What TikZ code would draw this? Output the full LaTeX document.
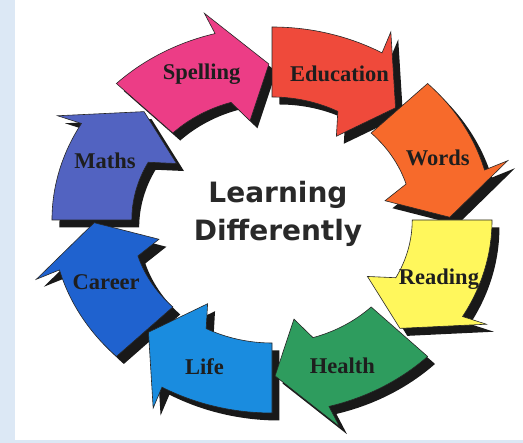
\documentclass[tikz,border=0pt]{standalone}
\usepackage{fontspec}
\setmainfont{Liberation Serif}
\newfontfamily\centrefont{DejaVu Sans}

\definecolor{educ}{HTML}{EF4A3B}
\definecolor{wordsc}{HTML}{F76A2B}
\definecolor{readc}{HTML}{FFF75C}
\definecolor{healthc}{HTML}{2E9C5E}
\definecolor{lifec}{HTML}{1A8CDF}
\definecolor{careerc}{HTML}{1F62CF}
\definecolor{mathsc}{HTML}{5263C1}
\definecolor{spellc}{HTML}{EC3D86}
\definecolor{edgeblue}{HTML}{DCE8F5}
\definecolor{inktext}{HTML}{1E1E1E}

% one piece of the ring, tail at angle #1, running clockwise
\newcommand{\ringarrow}[1]{(#1:193) arc[start angle=#1, end angle=#1-30, radius=193]
  -- (#1-29:215) -- (#1-44:156) -- (#1-34:101) -- (#1-28:123)
  arc[start angle=#1-28, end angle=#1, radius=123] -- cycle}

\begin{document}
\begin{tikzpicture}[x=1pt, y=1pt,
    arrowtext/.style={font=\fontsize{22.5}{25}\selectfont\bfseries, text=inktext},
    ringpart/.style={draw=black!85, line width=0.6pt}]
      \useasboundingbox (0,0) rectangle (523,443);
      \fill[edgeblue] (0,0) rectangle (523,443);
      \fill[white] (15,3) rectangle (523,443);
      \coordinate (O) at (272,223);
      \begin{scope}[shift={(O)}, xscale=1.14]
        \foreach \t in {90,45,0,-45,-90,-135,180,135}
          \fill[black!90, xshift=6.5pt, yshift=-7.5pt] \ringarrow{\t};
        \foreach \t/\col/\name/\txt in {90/educ/education/Education, 45/wordsc/words/Words,
            0/readc/reading/Reading, -45/healthc/health/Health, -90/lifec/life/Life,
            -135/careerc/career/Career, 180/mathsc/maths/Maths, 135/spellc/spelling/Spelling}{
          \path[fill=\col, ringpart] \ringarrow{\t};
          \node[arrowtext] (\name) at (\t-22:158) {\txt};
        }
      \end{scope}
      \node[font=\centrefont\bfseries\fontsize{28}{38}\selectfont, text=inktext!95, align=center]
        (centre) at (278,229) {Learning\\Differently};
\end{tikzpicture}
\end{document}
